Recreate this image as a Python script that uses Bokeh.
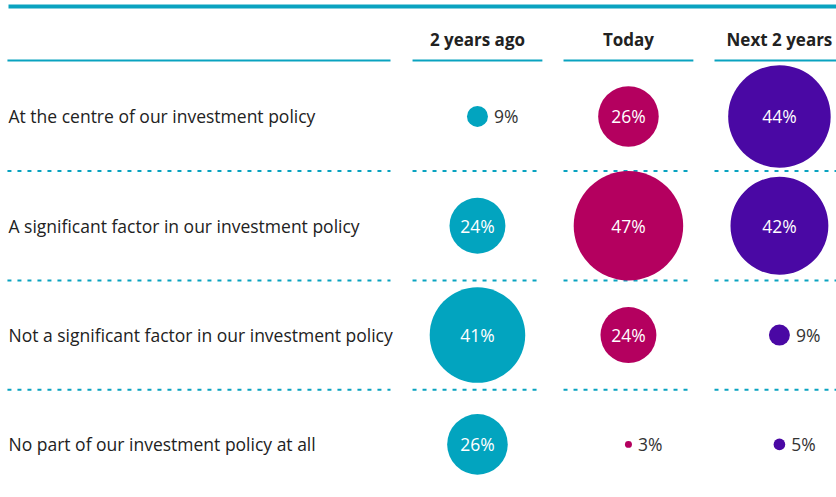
from bokeh.plotting import figure
from bokeh.models import Range1d, ColumnDataSource
from bokeh.core.properties import value
from bokeh.embed import file_html
from bokeh.resources import INLINE

# ---- data ----
columns = ["2 years ago", "Today", "Next 2 years"]
rows = [
    "At the centre of our investment policy",
    "A significant factor in our investment policy",
    "Not a significant factor in our investment policy",
    "No part of our investment policy at all",
]
two_years_ago = [9, 24, 41, 26]
today = [26, 47, 24, 3]
next_two_years = [44, 42, 9, 5]
colors = ["#02a4bf", "#b4005f", "#4a08a4"]

TEAL = "#0aa3c0"
FONT = "Open Sans"
PX_PER_PCT = 2.33  # circle diameter in px per percentage point

W, H = 836, 497
x0, x1 = -3.159, 2.378
yt, yb = -1.061, 3.486
p = figure(width=W, height=H, output_backend="svg", toolbar_location=None,
           x_range=Range1d(x0, x1), y_range=Range1d(yb, yt),
           min_border=0, outline_line_color=None)
p.xaxis.visible = False
p.yaxis.visible = False
p.grid.visible = False
p.background_fill_color = "white"
p.border_fill_color = "white"

# top thick rule
p.segment(x0=[-3.106], x1=[x1], y0=[-1.006], y1=[-1.006], line_color=TEAL, line_width=4)

# header underlines
hx0 = [-3.113] + [i - 0.43 for i in range(len(columns))]
hx1 = [-0.576] + [i + 0.43 for i in range(len(columns))]
p.segment(x0=hx0, x1=hx1, y0=[-0.512] * len(hx0), y1=[-0.512] * len(hx0),
          line_color=TEAL, line_width=2)

# dotted separators between rows
sep_y = [r + 0.5 for r in range(len(rows) - 1)]
for y in sep_y:
    p.segment(x0=hx0, x1=hx1, y0=[y] * len(hx0), y1=[y] * len(hx0),
              line_color=TEAL, line_width=2, line_dash="4 6")

# column headers
p.text(x=list(range(len(columns))), y=[-0.704] * len(columns), text=columns,
       text_font=value(FONT), text_font_style="bold", text_font_size="17px",
       text_color="#222222", text_align="center", text_baseline="middle")

# row labels
p.text(x=[-3.106] * len(rows), y=list(range(len(rows))), text=rows,
       text_font=value(FONT), text_font_size="17.5px", text_color="#222222",
       text_align="left", text_baseline="middle")

series = [two_years_ago, today, next_two_years]
for ci, vals in enumerate(series):
    xs = [ci] * len(vals)
    ys = list(range(len(vals)))
    sizes = [v * PX_PER_PCT for v in vals]
    p.scatter(x=xs, y=ys, size=sizes, fill_color=colors[ci], line_color=None)
    labels = [f"{v}%" for v in vals]
    inside = [v >= 15 for v in vals]
    src_in = ColumnDataSource(dict(x=[x for x, k in zip(xs, inside) if k],
                                   y=[y for y, k in zip(ys, inside) if k],
                                   t=[t for t, k in zip(labels, inside) if k]))
    p.text(x="x", y="y", text="t", source=src_in, text_font=value(FONT),
           text_font_size="17.5px", text_color="white", text_align="center",
           text_baseline="middle")
    out_idx = [i for i, k in enumerate(inside) if not k]
    src_out = ColumnDataSource(dict(x=[xs[i] for i in out_idx],
                                    y=[ys[i] for i in out_idx],
                                    t=[labels[i] for i in out_idx],
                                    off=[sizes[i] / 2 + 6 for i in out_idx]))
    p.text(x="x", y="y", text="t", source=src_out, x_offset="off",
           text_font=value(FONT), text_font_size="17.5px", text_color="#333333",
           text_align="left", text_baseline="middle")

open("out.html", "w").write(file_html(p, INLINE))
